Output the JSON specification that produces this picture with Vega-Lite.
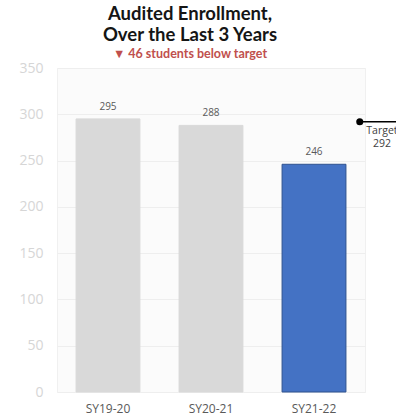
{
  "$schema": "https://vega.github.io/schema/vega-lite/v6.json",
  "width": 308,
  "height": 324,
  "autosize": {"type": "none"},
  "padding": {"left": 57, "top": 68, "right": 31, "bottom": 27},
  "background": "#ffffff",
  "title": {
    "text": ["Audited Enrollment,", "Over the Last 3 Years"],
    "subtitle": "▼ 46 students below target",
    "anchor": "middle",
    "dx": -21,
    "offset": 1,
    "font": "Lato",
    "fontSize": 18.5,
    "fontWeight": "bold",
    "color": "#151515",
    "lineHeight": 21,
    "subtitleFont": "Lato",
    "subtitleFontSize": 12.5,
    "subtitleFontWeight": "bold",
    "subtitleColor": "#c0504d",
    "subtitlePadding": 3
  },
  "config": {
    "view": {"fill": "#fbfbfb", "stroke": "#f0f0f0"}
  },
  "datasets": {
    "enroll": [
      {"year": "SY19-20", "students": 295},
      {"year": "SY20-21", "students": 288},
      {"year": "SY21-22", "students": 246}
    ],
    "target": [
      {"label": "Target", "value": 292}
    ]
  },
  "encoding": {
    "y": {
      "field": "students",
      "type": "quantitative",
      "scale": {"domain": [0, 350], "nice": false},
      "axis": {
        "title": null,
        "values": [0, 50, 100, 150, 200, 250, 300, 350],
        "domain": false,
        "ticks": false,
        "labelPadding": 14,
        "labelFont": "Open Sans",
        "labelFontSize": 14,
        "labelColor": "#d6d6d6",
        "gridColor": "#eeeeee",
        "gridWidth": 1
      }
    }
  },
  "layer": [
    {
      "data": {"name": "enroll"},
      "encoding": {
        "x": {
          "field": "year",
          "type": "nominal",
          "sort": null,
          "scale": {"type": "band", "paddingInner": 0.38, "paddingOuter": 0.185},
          "axis": {
            "title": null,
            "labelAngle": 0,
            "domain": false,
            "ticks": false,
            "grid": false,
            "labelPadding": 11,
            "labelFont": "Open Sans",
            "labelFontSize": 12,
            "labelColor": "#595959"
          }
        }
      },
      "layer": [
        {
          "mark": {"type": "bar", "strokeWidth": 1},
          "encoding": {
            "color": {
              "field": "year",
              "type": "nominal",
              "scale": {"domain": ["SY19-20", "SY20-21", "SY21-22"], "range": ["#d9d9d9", "#d9d9d9", "#4472c4"]},
              "legend": null
            },
            "stroke": {
              "field": "year",
              "type": "nominal",
              "scale": {"domain": ["SY19-20", "SY20-21", "SY21-22"], "range": ["#d9d9d9", "#d9d9d9", "#2f528f"]},
              "legend": null
            }
          }
        },
        {
          "mark": {"type": "text", "dy": -12, "font": "Open Sans", "fontSize": 10, "color": "#595959"},
          "encoding": {
            "text": {"field": "students", "type": "quantitative"}
          }
        }
      ]
    },
    {
      "data": {"name": "target"},
      "encoding": {
        "y": {"field": "value", "type": "quantitative"}
      },
      "layer": [
        {
          "mark": {"type": "rule", "color": "#000000", "strokeWidth": 1.5},
          "encoding": {
            "x": {"datum": 98.3, "type": "quantitative", "scale": {"domain": [0, 100], "nice": false, "zero": false}, "axis": null},
            "x2": {"datum": 118}
          }
        },
        {
          "mark": {"type": "point", "filled": true, "color": "#000000", "size": 50, "opacity": 1},
          "encoding": {
            "x": {"datum": 98.3, "type": "quantitative", "scale": {"domain": [0, 100], "nice": false, "zero": false}, "axis": null}
          }
        },
        {
          "mark": {"type": "text", "dy": 9, "font": "Open Sans", "fontSize": 10.5, "color": "#404040"},
          "encoding": {
            "x": {"datum": 105.5, "type": "quantitative", "scale": {"domain": [0, 100], "nice": false, "zero": false}, "axis": null},
            "text": {"field": "label"}
          }
        },
        {
          "mark": {"type": "text", "dy": 22, "font": "Open Sans", "fontSize": 10.5, "color": "#404040"},
          "encoding": {
            "x": {"datum": 105.5, "type": "quantitative", "scale": {"domain": [0, 100], "nice": false, "zero": false}, "axis": null},
            "text": {"field": "value", "type": "quantitative"}
          }
        }
      ]
    }
  ],
  "resolve": {"scale": {"x": "independent"}, "axis": {"x": "independent"}}
}
